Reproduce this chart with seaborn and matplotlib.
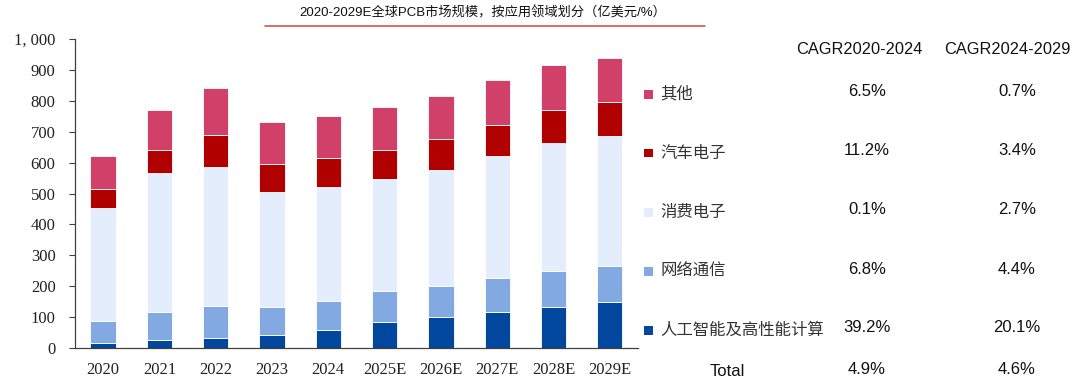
import numpy as np
import pandas as pd
import matplotlib
matplotlib.use("Agg")
import matplotlib.pyplot as plt
import seaborn as sns
from matplotlib.patches import Rectangle
from matplotlib.lines import Line2D

years = ["2020", "2021", "2022", "2023", "2024", "2025E", "2026E", "2027E", "2028E", "2029E"]
ai_hpc = [15, 26, 32, 43, 58, 85, 99, 117, 134, 149]
network = [72, 91, 104, 91, 95, 98, 103, 108, 115, 117]
consumer = [366, 448, 451, 370, 367, 363, 375, 395, 413, 419]
auto = [60, 76, 101, 90, 94, 95, 98, 102, 108, 111]
other = [108, 128, 154, 136, 136, 138, 139, 144, 145, 141]

series_names = ["人工智能及高性能计算", "网络通信", "消费电子", "汽车电子", "其他"]
series_colors = ["#00479D", "#83A9E3", "#E3EDFB", "#B00000", "#D04068"]
cagr_2020_2024 = ["39.2%", "6.8%", "0.1%", "11.2%", "6.5%"]
cagr_2024_2029 = ["20.1%", "4.4%", "2.7%", "3.4%", "0.7%"]
total_cagr = ["4.9%", "4.6%"]
title = "2020-2029E全球PCB市场规模，按应用领域划分（亿美元/%）"

sns.set_theme(style="white")
plt.rcParams['font.family'] = ['Liberation Sans', 'Noto Sans CJK SC', 'DejaVu Sans']

df = pd.DataFrame({"year": years, "ai": ai_hpc, "net": network, "con": consumer,
                   "auto": auto, "other": other})
cols = ["ai", "net", "con", "auto", "other"]

fig = plt.figure(figsize=(10.8, 3.81), dpi=100)
ax = fig.add_axes([0.0694, 0.0866, 0.5213, 0.811])

bottom = np.zeros(len(years))
for c, name, color in zip(cols, series_names, series_colors):
    sns.barplot(data=df, x="year", y=c, bottom=bottom, color=color, width=0.45,
                saturation=1, ax=ax, edgecolor="white", linewidth=0.6)
    bottom = bottom + df[c].values

ax.set_xlim(-0.5, 9.5)
ax.set_ylim(0, 1000)
ax.set_yticks(np.arange(0, 1001, 100))
ax.set_yticklabels([f"{v:,}".replace(",", ", ") if v >= 1000 else str(v) for v in range(0, 1001, 100)])
ax.set_xlabel("")
ax.set_ylabel("")
for s in ["top", "right"]:
    ax.spines[s].set_visible(False)
for s in ["left", "bottom"]:
    ax.spines[s].set_color("#404040")
    ax.spines[s].set_linewidth(0.9)
ax.tick_params(axis="y", which="both", left=True, length=4, width=0.8, color="#404040",
               direction="out", pad=10)
ax.tick_params(axis="x", bottom=False, pad=4)
for lab in ax.get_yticklabels() + ax.get_xticklabels():
    lab.set_fontfamily("Liberation Serif")
    lab.set_fontsize(12)
    lab.set_color("#222222")

# title and red underline
fig.text(0.447, 0.965, title, ha="center", va="center", fontsize=9.5,
         family=['Liberation Sans', 'Noto Sans CJK SC'], color="#111111", fontweight="medium")
fig.add_artist(Line2D([0.245, 0.653], [0.933, 0.933], color="#D9534F", lw=1.2,
                      transform=fig.transFigure))

# legend + CAGR table
row_y = [330, 271, 212, 153, 94]
fig.text(859 / 1080, 1 - 50 / 381, "CAGR2020-2024", ha="center", va="center", fontsize=11.8,
         color="#111111")
fig.text(1007 / 1080, 1 - 50 / 381, "CAGR2024-2029", ha="center", va="center", fontsize=11.8,
         color="#111111")
for name, color, c1, c2, y in zip(series_names, series_colors, cagr_2020_2024, cagr_2024_2029, row_y):
    yf = 1 - y / 381
    fig.add_artist(Rectangle((644 / 1080, yf - 4.5 / 381), 9 / 1080, 9 / 381,
                             facecolor=color, edgecolor="none", transform=fig.transFigure))
    fig.text(660 / 1080, yf, name, ha="left", va="center", fontsize=11.8,
             family=['Noto Sans CJK SC'], color="#333333")
    fig.text(867 / 1080, yf + 2 / 381, c1, ha="center", va="center", fontsize=12, color="#111111")
    fig.text(1017 / 1080, yf + 2 / 381, c2, ha="center", va="center", fontsize=12, color="#111111")
fig.text(727 / 1080, 1 - 372 / 381, "Total", ha="center", va="center", fontsize=12, color="#111111")
fig.text(867 / 1080, 1 - 370 / 381, total_cagr[0], ha="center", va="center", fontsize=12, color="#111111")
fig.text(1017 / 1080, 1 - 370 / 381, total_cagr[1], ha="center", va="center", fontsize=12, color="#111111")

fig.savefig("out.png", dpi=100)
